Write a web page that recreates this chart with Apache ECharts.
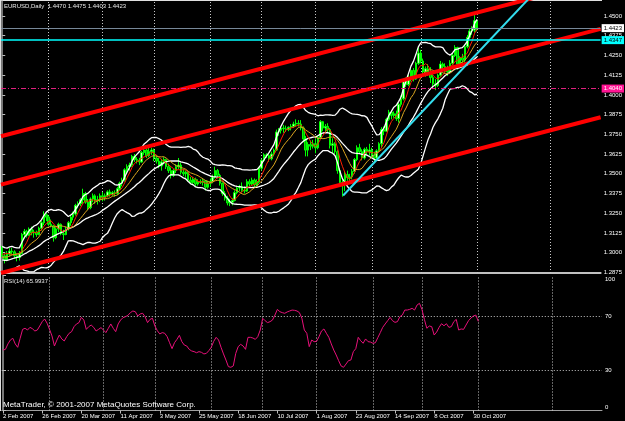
<!DOCTYPE html>
<html>
<head>
<meta charset="utf-8">
<script src="https://cdn.jsdelivr.net/npm/echarts@6/dist/echarts.min.js"></script>
<style>
  html, body { margin: 0; padding: 0; background: #000; }
  #chart { width: 625px; height: 421px; }
</style>
</head>
<body>
<div id="chart"></div>
<script>
// slots on the time axis: 195 daily bars + empty space on the right
const SLOT_COUNT = 245
const LABEL_STEP = 16
const DATE_LABELS = ['2 Feb 2007', '26 Feb 2007', '20 Mar 2007', '11 Apr 2007', '3 May 2007', '25 May 2007',
  '18 Jun 2007', '10 Jul 2007', '1 Aug 2007', '23 Aug 2007', '14 Sep 2007', '8 Oct 2007', '30 Oct 2007']
const MONTH_STARTS = [19, 41, 62, 85, 106, 128, 151, 171, 194, 224]
const PRICE_TICKS = [1.2875, 1.3000, 1.3125, 1.3250, 1.3375, 1.3500, 1.3625, 1.3750, 1.3875, 1.4000, 1.4125, 1.4250, 1.4375, 1.4500]
const RSI_TICKS = [0, 30, 70, 100]
const RSI_LEVELS = [70, 30]

// closes before the first visible bar (only used to warm up the indicators)
const PRE_CLOSES = [1.3085, 1.3005, 1.3020, 1.3005, 1.2925, 1.2895, 1.2870, 1.2900, 1.2920, 1.2945, 1.2940,
  1.2960, 1.2945, 1.2990, 1.2960, 1.2925, 1.2950, 1.2940, 1.2975, 1.3020, 1.3030]

// daily bars: open, high, low, close
const OHLC = [
  // Feb
  [1.3030, 1.3042, 1.2970, 1.2980], [1.2980, 1.2995, 1.2932, 1.2955], [1.2955, 1.3010, 1.2945, 1.2990],
  [1.2990, 1.3028, 1.2975, 1.3010], [1.3010, 1.3030, 1.2985, 1.3005], [1.3005, 1.3015, 1.2965, 1.2980],
  [1.2980, 1.2995, 1.2945, 1.2970], [1.2970, 1.3010, 1.2950, 1.2995], [1.2995, 1.3125, 1.2990, 1.3115],
  [1.3115, 1.3150, 1.3090, 1.3135], [1.3135, 1.3145, 1.3095, 1.3110], [1.3110, 1.3160, 1.3105, 1.3150],
  [1.3150, 1.3165, 1.3110, 1.3125], [1.3125, 1.3145, 1.3095, 1.3130], [1.3130, 1.3140, 1.3100, 1.3115],
  [1.3115, 1.3165, 1.3110, 1.3155], [1.3155, 1.3200, 1.3140, 1.3190], [1.3190, 1.3262, 1.3175, 1.3240],
  [1.3240, 1.3250, 1.3200, 1.3225],
  // Mar
  [1.3225, 1.3235, 1.3170, 1.3180], [1.3180, 1.3210, 1.3160, 1.3170], [1.3170, 1.3175, 1.3070, 1.3095],
  [1.3095, 1.3160, 1.3085, 1.3150], [1.3150, 1.3190, 1.3130, 1.3180], [1.3180, 1.3185, 1.3110, 1.3120],
  [1.3120, 1.3145, 1.3080, 1.3115], [1.3115, 1.3165, 1.3110, 1.3150], [1.3150, 1.3200, 1.3140, 1.3190],
  [1.3190, 1.3240, 1.3170, 1.3225], [1.3225, 1.3260, 1.3205, 1.3245], [1.3245, 1.3310, 1.3235, 1.3300],
  [1.3300, 1.3325, 1.3280, 1.3310], [1.3310, 1.3345, 1.3295, 1.3335], [1.3335, 1.3405, 1.3310, 1.3375],
  [1.3375, 1.3385, 1.3310, 1.3320], [1.3320, 1.3340, 1.3270, 1.3285], [1.3285, 1.3350, 1.3275, 1.3340],
  [1.3340, 1.3375, 1.3320, 1.3360], [1.3360, 1.3370, 1.3310, 1.3330], [1.3330, 1.3360, 1.3305, 1.3335],
  [1.3335, 1.3375, 1.3320, 1.3360],
  // Apr
  [1.3360, 1.3385, 1.3325, 1.3350], [1.3350, 1.3375, 1.3330, 1.3360], [1.3360, 1.3395, 1.3350, 1.3385],
  [1.3385, 1.3400, 1.3355, 1.3370], [1.3370, 1.3390, 1.3360, 1.3380], [1.3380, 1.3395, 1.3355, 1.3375],
  [1.3375, 1.3415, 1.3365, 1.3405], [1.3405, 1.3450, 1.3395, 1.3440], [1.3440, 1.3475, 1.3420, 1.3460],
  [1.3460, 1.3535, 1.3450, 1.3525], [1.3525, 1.3560, 1.3505, 1.3545], [1.3545, 1.3570, 1.3520, 1.3555],
  [1.3555, 1.3620, 1.3545, 1.3610], [1.3610, 1.3625, 1.3575, 1.3590], [1.3590, 1.3605, 1.3565, 1.3585],
  [1.3585, 1.3600, 1.3555, 1.3575], [1.3575, 1.3645, 1.3570, 1.3635], [1.3635, 1.3665, 1.3620, 1.3650],
  [1.3650, 1.3660, 1.3600, 1.3615], [1.3615, 1.3682, 1.3605, 1.3640], [1.3640, 1.3665, 1.3620, 1.3650],
  // May
  [1.3650, 1.3660, 1.3580, 1.3600], [1.3600, 1.3620, 1.3565, 1.3580], [1.3580, 1.3600, 1.3535, 1.3550],
  [1.3550, 1.3595, 1.3520, 1.3575], [1.3575, 1.3605, 1.3560, 1.3590], [1.3590, 1.3595, 1.3530, 1.3545],
  [1.3545, 1.3565, 1.3505, 1.3520], [1.3520, 1.3540, 1.3470, 1.3490], [1.3490, 1.3530, 1.3480, 1.3520],
  [1.3520, 1.3560, 1.3505, 1.3545], [1.3545, 1.3600, 1.3530, 1.3555], [1.3555, 1.3570, 1.3495, 1.3510],
  [1.3510, 1.3530, 1.3485, 1.3500], [1.3500, 1.3520, 1.3475, 1.3510], [1.3510, 1.3515, 1.3450, 1.3460],
  [1.3460, 1.3480, 1.3435, 1.3445], [1.3445, 1.3480, 1.3435, 1.3465], [1.3465, 1.3475, 1.3420, 1.3435],
  [1.3435, 1.3465, 1.3425, 1.3450], [1.3450, 1.3465, 1.3435, 1.3445], [1.3445, 1.3470, 1.3425, 1.3455],
  [1.3455, 1.3460, 1.3395, 1.3415], [1.3415, 1.3455, 1.3405, 1.3440],
  // Jun
  [1.3440, 1.3470, 1.3415, 1.3450], [1.3450, 1.3495, 1.3440, 1.3480], [1.3480, 1.3545, 1.3470, 1.3520],
  [1.3520, 1.3530, 1.3470, 1.3490], [1.3490, 1.3500, 1.3425, 1.3440], [1.3440, 1.3445, 1.3360, 1.3375],
  [1.3375, 1.3390, 1.3330, 1.3345], [1.3345, 1.3360, 1.3300, 1.3315], [1.3315, 1.3340, 1.3295, 1.3320],
  [1.3320, 1.3345, 1.3300, 1.3330], [1.3330, 1.3395, 1.3325, 1.3380], [1.3380, 1.3420, 1.3370, 1.3410],
  [1.3410, 1.3430, 1.3390, 1.3420], [1.3420, 1.3445, 1.3385, 1.3395], [1.3395, 1.3420, 1.3375, 1.3390],
  [1.3390, 1.3465, 1.3385, 1.3450], [1.3450, 1.3465, 1.3420, 1.3435], [1.3435, 1.3475, 1.3425, 1.3460],
  [1.3460, 1.3470, 1.3410, 1.3430], [1.3430, 1.3465, 1.3420, 1.3450], [1.3450, 1.3545, 1.3440, 1.3535],
  // Jul
  [1.3535, 1.3595, 1.3520, 1.3585], [1.3585, 1.3630, 1.3575, 1.3620], [1.3620, 1.3630, 1.3600, 1.3615],
  [1.3615, 1.3625, 1.3575, 1.3595], [1.3595, 1.3640, 1.3585, 1.3625], [1.3625, 1.3660, 1.3610, 1.3650],
  [1.3650, 1.3780, 1.3645, 1.3765], [1.3765, 1.3790, 1.3740, 1.3775], [1.3775, 1.3800, 1.3755, 1.3790],
  [1.3790, 1.3810, 1.3760, 1.3785], [1.3785, 1.3805, 1.3765, 1.3780], [1.3780, 1.3800, 1.3770, 1.3795],
  [1.3795, 1.3815, 1.3775, 1.3800], [1.3800, 1.3830, 1.3790, 1.3815], [1.3815, 1.3845, 1.3800, 1.3820],
  [1.3820, 1.3840, 1.3800, 1.3815], [1.3815, 1.3840, 1.3775, 1.3790], [1.3790, 1.3800, 1.3700, 1.3720],
  [1.3720, 1.3740, 1.3610, 1.3650], [1.3650, 1.3700, 1.3610, 1.3685], [1.3685, 1.3710, 1.3650, 1.3675],
  [1.3675, 1.3715, 1.3660, 1.3690],
  // Aug
  [1.3690, 1.3725, 1.3630, 1.3665], [1.3665, 1.3745, 1.3655, 1.3730], [1.3730, 1.3840, 1.3720, 1.3830],
  [1.3830, 1.3835, 1.3770, 1.3790], [1.3790, 1.3815, 1.3765, 1.3800], [1.3800, 1.3820, 1.3765, 1.3780],
  [1.3780, 1.3790, 1.3660, 1.3680], [1.3680, 1.3725, 1.3630, 1.3690], [1.3690, 1.3700, 1.3625, 1.3640],
  [1.3640, 1.3650, 1.3500, 1.3520], [1.3520, 1.3535, 1.3430, 1.3445], [1.3445, 1.3470, 1.3355, 1.3440],
  [1.3440, 1.3515, 1.3390, 1.3495], [1.3495, 1.3520, 1.3455, 1.3475], [1.3475, 1.3500, 1.3440, 1.3480],
  [1.3480, 1.3530, 1.3465, 1.3515], [1.3515, 1.3600, 1.3500, 1.3590], [1.3590, 1.3680, 1.3580, 1.3665],
  [1.3665, 1.3690, 1.3625, 1.3640], [1.3640, 1.3655, 1.3585, 1.3600], [1.3600, 1.3665, 1.3590, 1.3655],
  [1.3655, 1.3670, 1.3620, 1.3640], [1.3640, 1.3690, 1.3615, 1.3650],
  // Sep
  [1.3650, 1.3665, 1.3605, 1.3620], [1.3620, 1.3640, 1.3575, 1.3600], [1.3600, 1.3655, 1.3590, 1.3645],
  [1.3645, 1.3700, 1.3640, 1.3690], [1.3690, 1.3795, 1.3665, 1.3780], [1.3780, 1.3800, 1.3745, 1.3770],
  [1.3770, 1.3855, 1.3765, 1.3845], [1.3845, 1.3905, 1.3835, 1.3890], [1.3890, 1.3900, 1.3845, 1.3870],
  [1.3870, 1.3895, 1.3855, 1.3880], [1.3880, 1.3900, 1.3835, 1.3850], [1.3850, 1.3950, 1.3825, 1.3940],
  [1.3940, 1.3995, 1.3925, 1.3975], [1.3975, 1.4100, 1.3965, 1.4085], [1.4085, 1.4110, 1.4050, 1.4065],
  [1.4065, 1.4130, 1.4055, 1.4110], [1.4110, 1.4170, 1.4085, 1.4155], [1.4155, 1.4170, 1.4085, 1.4100],
  [1.4100, 1.4210, 1.4095, 1.4200], [1.4200, 1.4305, 1.4190, 1.4265],
  // Oct
  [1.4265, 1.4285, 1.4200, 1.4215], [1.4215, 1.4230, 1.4125, 1.4145], [1.4145, 1.4180, 1.4115, 1.4165],
  [1.4165, 1.4195, 1.4120, 1.4135], [1.4135, 1.4175, 1.4075, 1.4110], [1.4110, 1.4125, 1.4050, 1.4070],
  [1.4070, 1.4100, 1.4030, 1.4060], [1.4060, 1.4135, 1.4050, 1.4125], [1.4125, 1.4215, 1.4115, 1.4195],
  [1.4195, 1.4205, 1.4160, 1.4180], [1.4180, 1.4200, 1.4140, 1.4165], [1.4165, 1.4185, 1.4120, 1.4145],
  [1.4145, 1.4220, 1.4135, 1.4200], [1.4200, 1.4265, 1.4190, 1.4250], [1.4250, 1.4315, 1.4240, 1.4300],
  [1.4300, 1.4305, 1.4160, 1.4195], [1.4195, 1.4245, 1.4185, 1.4235], [1.4235, 1.4260, 1.4195, 1.4220],
  [1.4220, 1.4320, 1.4205, 1.4305], [1.4305, 1.4380, 1.4295, 1.4365], [1.4365, 1.4420, 1.4355, 1.4405],
  [1.4405, 1.4435, 1.4380, 1.4410], [1.4410, 1.4510, 1.4395, 1.4470],
  // Nov
  [1.4470, 1.4475, 1.4403, 1.4423]
]

const RSI_VALUES = [
  44.8, 45.3, 49.3, 52.2, 53.5, 49.3, 46.8, 53.5, 60.1, 60.9,
  59.6, 61.6, 60.6, 58.9, 59.6, 62.6, 65.8, 67.8, 64.6, 60.1,
  55.2, 47.8, 52.2, 55.9, 53.0, 51.5, 54.7, 57.2, 58.4, 62.1,
  64.1, 65.1, 69.0, 67.0, 60.1, 62.1, 63.3, 61.6, 58.9, 60.1,
  61.4, 59.6, 57.7, 60.9, 64.1, 60.9, 58.4, 64.1, 67.0, 68.8,
  69.5, 70.5, 72.5, 73.7, 73.2, 70.0, 71.5, 72.0, 69.5, 65.1,
  67.5, 68.3, 62.6, 59.1, 56.7, 57.7, 57.2, 54.7, 50.2, 45.8,
  50.2, 52.7, 55.7, 51.0, 48.5, 47.8, 45.3, 44.1, 43.6, 42.8,
  43.6, 43.1, 41.9, 42.3, 44.3, 46.8, 51.2, 54.2, 52.2, 46.8,
  41.9, 37.4, 32.5, 32.0, 33.0, 42.3, 47.3, 49.0, 47.8, 45.3,
  54.2, 54.2, 53.7, 52.7, 54.7, 59.6, 68.3, 66.5, 65.1, 65.8,
  67.0, 70.7, 74.9, 73.2, 72.5, 72.0, 73.0, 73.7, 74.4, 74.2,
  73.7, 72.5, 68.3, 59.6, 57.2, 47.3, 52.2, 51.0, 51.2, 54.7,
  58.9, 60.4, 57.2, 54.2, 49.3, 44.8, 41.1, 36.9, 33.0, 32.0,
  34.4, 36.9, 37.4, 43.6, 45.8, 54.2, 51.7, 49.8, 53.0, 51.0,
  50.7, 49.8, 50.2, 54.0, 57.7, 61.6, 64.1, 66.5, 69.0, 66.5,
  65.3, 65.8, 69.5, 70.7, 74.4, 74.4, 74.9, 75.7, 74.4, 78.1,
  79.4, 74.9, 67.5, 60.9, 62.6, 62.1, 55.9, 58.1, 61.6, 64.3,
  62.8, 64.3, 61.6, 62.1, 65.8, 67.5, 59.6, 60.4, 60.1, 63.3,
  66.5, 68.5, 70.0, 70.7, 66.0
]

// drawn objects: [bar index, price] end points
const CHANNEL_TOP = [[-0.5, 1.3738], [244.5, 1.4725]]
const CHANNEL_MID = [[-0.5, 1.3431], [244.5, 1.4418]]
const CHANNEL_LOW = [[-0.5, 1.2871], [244.5, 1.3858]]
const CYAN_TREND = [[139.3, 1.3362], [220, 1.4690]]
const PRICE_LINES = [1.4423, 1.4347, 1.4040]

const FONT = 'Liberation Sans, Arial, sans-serif'

const closes = PRE_CLOSES.concat(OHLC.map(d => d[3]))
const pre = PRE_CLOSES.length

function smaAt(k, n) {
  let s = 0
  for (let j = k - n + 1; j <= k; j++) s += closes[j]
  return s / n
}

function calcMA(n) {
  return OHLC.map((_, i) => smaAt(i + pre, n))
}

function calcBands(n, dev) {
  const up = [], mid = [], low = []
  OHLC.forEach((_, i) => {
    const k = i + pre
    const m = smaAt(k, n)
    let v = 0
    for (let j = k - n + 1; j <= k; j++) v += (closes[j] - m) ** 2
    const sd = Math.sqrt(v / n)
    up.push(m + dev * sd)
    mid.push(m)
    low.push(m - dev * sd)
  })
  return { up, mid, low }
}

const bands = calcBands(20, 2)
const slots = Array.from({ length: SLOT_COUNT }, (_, i) => String(i))
const isLabelSlot = (i) => i % LABEL_STEP === 0 && i / LABEL_STEP < DATE_LABELS.length

const dotted = { color: '#c8c8c8', width: 1, type: [1, 2] }
const lineBase = { type: 'line', symbol: 'none', silent: true, animation: false }

const chart = echarts.init(document.getElementById('chart'))

chart.setOption({
  backgroundColor: '#000',
  animation: false,
  grid: [
    { left: 1, top: 1, width: 601, height: 272 },
    { left: 1, top: 275.5, width: 601, height: 135 }
  ],
  xAxis: [
    {
      type: 'category', gridIndex: 0, data: slots,
      axisLine: { lineStyle: { color: '#c0c0c0', width: 2 } },
      axisTick: { show: false }, axisLabel: { show: false }, splitLine: { show: false }
    },
    { type: 'value', gridIndex: 0, min: -0.5, max: SLOT_COUNT - 0.5, show: false },
    {
      type: 'category', gridIndex: 1, data: slots,
      axisLine: { lineStyle: { color: '#a0a0a0', width: 1 } },
      axisTick: { show: true, interval: isLabelSlot, alignWithLabel: true, length: 3, lineStyle: { color: '#c0c0c0' } },
      axisLabel: {
        interval: isLabelSlot, align: 'left', margin: 3,
        color: '#fff', fontSize: 6, fontFamily: FONT,
        formatter: (v, i) => DATE_LABELS[i / LABEL_STEP] || ''
      },
      splitLine: { show: false }
    },
    { type: 'value', gridIndex: 1, min: -0.5, max: SLOT_COUNT - 0.5, show: false }
  ],
  yAxis: [
    {
      type: 'value', gridIndex: 0, position: 'right', min: 1.2871, max: 1.4595,
      axisLine: { show: true, lineStyle: { color: '#a0a0a0', width: 1.5 } },
      axisTick: { show: true, length: 3, customValues: PRICE_TICKS, lineStyle: { color: '#c0c0c0' } },
      axisLabel: {
        customValues: PRICE_TICKS, margin: 3, color: '#fff', fontSize: 6, fontFamily: FONT,
        formatter: v => v.toFixed(4)
      },
      splitLine: { show: false }
    },
    {
      type: 'value', gridIndex: 1, position: 'right', min: 0, max: 100,
      axisLine: { show: true, lineStyle: { color: '#a0a0a0', width: 1.5 } },
      axisTick: { show: true, length: 3, customValues: RSI_TICKS, lineStyle: { color: '#c0c0c0' } },
      axisLabel: {
        customValues: RSI_TICKS, margin: 3, color: '#fff', fontSize: 6, fontFamily: FONT,
        formatter: v => v === 100 ? '{top|100}' : v === 0 ? '{bot|0}' : String(v),
        rich: {
          top: { color: '#fff', fontSize: 6, fontFamily: FONT, padding: [7, 0, 0, 0] },
          bot: { color: '#fff', fontSize: 6, fontFamily: FONT, padding: [0, 0, 7, 0] }
        }
      },
      splitLine: { show: false }
    }
  ],
  series: [
    {
      type: 'candlestick', xAxisIndex: 0, yAxisIndex: 0, silent: true,
      data: OHLC.map(d => [d[0], d[3], d[2], d[1]]),
      barWidth: 2,
      itemStyle: { color: '#d8ffc8', color0: '#00b400', borderColor: '#00ff00', borderColor0: '#00ff00', borderWidth: 1 }
    },
    { ...lineBase, xAxisIndex: 0, yAxisIndex: 0, data: bands.up, lineStyle: { color: '#fff', width: 1.3 } },
    { ...lineBase, xAxisIndex: 0, yAxisIndex: 0, data: bands.mid, lineStyle: { color: '#fff', width: 1.3 } },
    { ...lineBase, xAxisIndex: 0, yAxisIndex: 0, data: bands.low, lineStyle: { color: '#fff', width: 1.3 } },
    { ...lineBase, xAxisIndex: 0, yAxisIndex: 0, data: calcMA(5), lineStyle: { color: '#ff2000', width: 1 } },
    { ...lineBase, xAxisIndex: 0, yAxisIndex: 0, data: calcMA(10), lineStyle: { color: '#daa520', width: 1 } },
    {
      ...lineBase, xAxisIndex: 1, yAxisIndex: 0, data: CHANNEL_TOP, lineStyle: { color: '#ff0000', width: 4 },
      markLine: {
        silent: true, z: 1, symbol: ['none', 'none'], animation: false,
        label: { show: false }, lineStyle: dotted,
        data: MONTH_STARTS.map(v => ({ xAxis: v }))
      }
    },
    { ...lineBase, xAxisIndex: 1, yAxisIndex: 0, data: CHANNEL_MID, lineStyle: { color: '#ff0000', width: 4 } },
    { ...lineBase, xAxisIndex: 1, yAxisIndex: 0, data: CHANNEL_LOW, lineStyle: { color: '#ff0000', width: 4 } },
    {
      ...lineBase, xAxisIndex: 1, yAxisIndex: 0, data: CYAN_TREND, lineStyle: { color: '#33ddee', width: 2 },
      markLine: {
        silent: true, symbol: ['none', 'none'], animation: false, precision: 4,
        label: {
          show: true, position: 'end', distance: 1, fontSize: 6, fontFamily: FONT, padding: [1, 2, 1, 2],
          formatter: p => Number(p.value).toFixed(4)
        },
        data: [
          { yAxis: PRICE_LINES[0], lineStyle: { color: '#778899', width: 1, type: 'solid' },
            label: { backgroundColor: '#ffffff', color: '#000' } },
          { yAxis: PRICE_LINES[1], lineStyle: { color: '#00ffff', width: 1.5, type: 'solid' },
            label: { backgroundColor: '#00ffff', color: '#000' } },
          { yAxis: PRICE_LINES[2], lineStyle: { color: '#e0207e', width: 1, type: [5, 2, 1, 2] },
            label: { backgroundColor: '#ff1493', color: '#fff' } }
        ]
      }
    },
    {
      ...lineBase, xAxisIndex: 3, yAxisIndex: 1,
      data: RSI_VALUES.map((v, i) => [i, v]),
      lineStyle: { color: '#e8107a', width: 1 },
      markLine: {
        silent: true, z: 1, symbol: ['none', 'none'], animation: false,
        label: { show: false }, lineStyle: dotted,
        data: MONTH_STARTS.map(v => ({ xAxis: v })).concat(RSI_LEVELS.map(v => ({ yAxis: v })))
      }
    }
  ],
  graphic: [
    { type: 'line', shape: { x1: 0.5, y1: 0, x2: 0.5, y2: 411 }, style: { stroke: '#e0e0e0', lineWidth: 1 }, silent: true },
    { type: 'line', shape: { x1: 0, y1: 0.5, x2: 602, y2: 0.5 }, style: { stroke: '#e0e0e0', lineWidth: 1 }, silent: true },
    { type: 'text', left: 4, top: 3, silent: true,
      style: { text: 'EURUSD,Daily  1.4470 1.4475 1.4403 1.4423', fill: '#e8e8e8', font: '6px ' + FONT } },
    { type: 'text', left: 4, top: 278, silent: true,
      style: { text: 'RSI(14) 65.9937', fill: '#e8e8e8', font: '6px ' + FONT } },
    { type: 'text', left: 3, top: 401, silent: true, z: 10,
      style: { text: 'MetaTrader, \u00a9 2001-2007 MetaQuotes Software Corp.', fill: '#fff', font: '8px ' + FONT } }
  ]
})
</script>
</body>
</html>
